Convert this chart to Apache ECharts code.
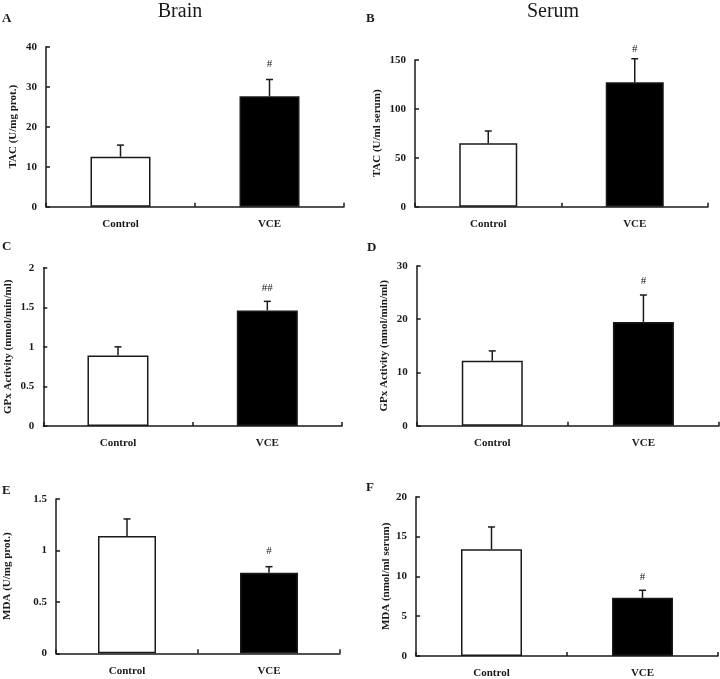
<!DOCTYPE html>
<html><head><meta charset="utf-8">
<script src="https://cdn.jsdelivr.net/npm/echarts@6/dist/echarts.min.js"></script>
<style>html,body{margin:0;padding:0;background:#fff}#c{width:720px;height:679px}</style>
</head><body><div id="c"></div>
<script>
// ---- data ----
const categories = ['Control', 'VCE'];
const columnTitles = ['Brain', 'Serum'];
const panelLetters = ['A', 'B', 'C', 'D', 'E', 'F'];
const yAxisNames = ['TAC (U/mg prot.)', 'TAC (U/ml serum)', 'GPx Activity (mmol/min/ml)', 'GPx Activity (nmol/min/ml)', 'MDA (U/mg prot.)', 'MDA (nmol/ml serum)'];
const yMax = [40, 150, 2, 30, 1.5, 20];
const yStep = [10, 50, 0.5, 10, 0.5, 5];
const tacBrain = [12.5, 27.6];      const tacBrainErr = [2.9, 4.2];
const tacSerum = [64.8, 127.2];     const tacSerumErr = [12.6, 24.1];
const gpxBrain = [0.89, 1.46];      const gpxBrainErr = [0.11, 0.115];
const gpxSerum = [12.2, 19.5];      const gpxSerumErr = [1.85, 5.05];
const mdaBrain = [1.14, 0.784];     const mdaBrainErr = [0.166, 0.058];
const mdaSerum = [13.4, 7.3];       const mdaSerumErr = [2.8, 0.95];
const sigMarks = [['', '#'], ['', '#'], ['', '##'], ['', '#'], ['', '#'], ['', '#']];
const panelValues = [tacBrain, tacSerum, gpxBrain, gpxSerum, mdaBrain, mdaSerum];
const panelErrors = [tacBrainErr, tacSerumErr, gpxBrainErr, gpxSerumErr, mdaBrainErr, mdaSerumErr];

// ---- layout / style ----
const grids = [
  {left: 46, top: 46.7, width: 298, height: 160},
  {left: 415, top: 60, width: 293, height: 146.7},
  {left: 43.3, top: 267.7, width: 298.7, height: 158.3},
  {left: 416.7, top: 266, width: 302.3, height: 159.7},
  {left: 56, top: 499, width: 284, height: 154.3},
  {left: 416, top: 496.7, width: 302, height: 160.6}
];
const barWidths = [60, 58, 61, 61, 58, 61];
const nameGaps = [27, 32, 30, 27, 43, 24];
const markGaps = [10, 4, 8, 8, 10, 8];
const letterPos = [[2, 19], [366, 19], [2, 247], [367, 248], [2, 491], [366, 488]];
const titlePos = [[180, 12], [553, 12]];
const barColors = ['#ffffff', '#000000'];
const ink = '#1a1a1a';
const serif = '"Liberation Serif", "Times New Roman", serif';

const option = {
  animation: false,
  backgroundColor: '#fff',
  grid: grids.map(g => Object.assign({containLabel: false}, g)),
  xAxis: grids.map((g, i) => ({
    type: 'category', gridIndex: i, data: categories,
    axisLine: {lineStyle: {color: ink, width: 1.5}},
    axisTick: {show: true, inside: true, length: 4, lineStyle: {color: ink, width: 1.5}},
    axisLabel: {color: ink, fontFamily: serif, fontWeight: 'bold', fontSize: 11, margin: 12}
  })),
  yAxis: grids.map((g, i) => ({
    type: 'value', gridIndex: i, min: 0, max: yMax[i], interval: yStep[i],
    name: yAxisNames[i], nameLocation: 'middle', nameRotate: 90, nameGap: nameGaps[i],
    nameTextStyle: {color: ink, fontFamily: serif, fontWeight: 'bold', fontSize: 11},
    splitLine: {show: false},
    axisLine: {show: true, lineStyle: {color: ink, width: 1.5}},
    axisTick: {show: true, inside: true, length: 4, lineStyle: {color: ink, width: 1.5}},
    axisLabel: {color: ink, fontFamily: serif, fontWeight: 'bold', fontSize: 11, margin: 9,
      formatter: v => String(+v.toFixed(2))}
  })),
  graphic: [
    ...columnTitles.map((t, i) => ({type: 'text', x: titlePos[i][0], y: titlePos[i][1],
      style: {text: t, font: '20px ' + serif, fill: ink, align: 'center', verticalAlign: 'middle'}})),
    ...panelLetters.map((t, i) => ({type: 'text', x: letterPos[i][0], y: letterPos[i][1],
      style: {text: t, font: 'bold 13px ' + serif, fill: ink, align: 'left', verticalAlign: 'middle'}}))
  ],
  series: []
};

panelValues.forEach((vals, i) => {
  option.series.push({
    type: 'bar', xAxisIndex: i, yAxisIndex: i, barWidth: barWidths[i],
    data: vals.map((v, k) => ({value: v, itemStyle: {color: barColors[k], borderColor: ink, borderWidth: 1.5}}))
  });
  const errs = panelErrors[i];
  option.series.push({
    type: 'custom', xAxisIndex: i, yAxisIndex: i, z: 5,
    data: vals.map((v, k) => [k, v, v + errs[k]]),
    renderItem: (params, api) => {
      const k = api.value(0);
      const p0 = api.coord([k, api.value(1)]);
      const p1 = api.coord([k, api.value(2)]);
      const cap = 3.5;
      const st = {stroke: ink, lineWidth: 1.5};
      const children = [
        {type: 'line', shape: {x1: p0[0], y1: p0[1], x2: p1[0], y2: p1[1]}, style: st},
        {type: 'line', shape: {x1: p1[0] - cap, y1: p1[1], x2: p1[0] + cap, y2: p1[1]}, style: st}
      ];
      const mark = sigMarks[i][k];
      if (mark) children.push({type: 'text', x: p1[0], y: p1[1] - markGaps[i],
        style: {text: mark, font: '11px ' + serif, fill: ink, align: 'center', verticalAlign: 'bottom'}});
      return {type: 'group', children};
    }
  });
});

const chart = echarts.init(document.getElementById('c'), null, {renderer: 'canvas'});
chart.setOption(option);
</script></body></html>
